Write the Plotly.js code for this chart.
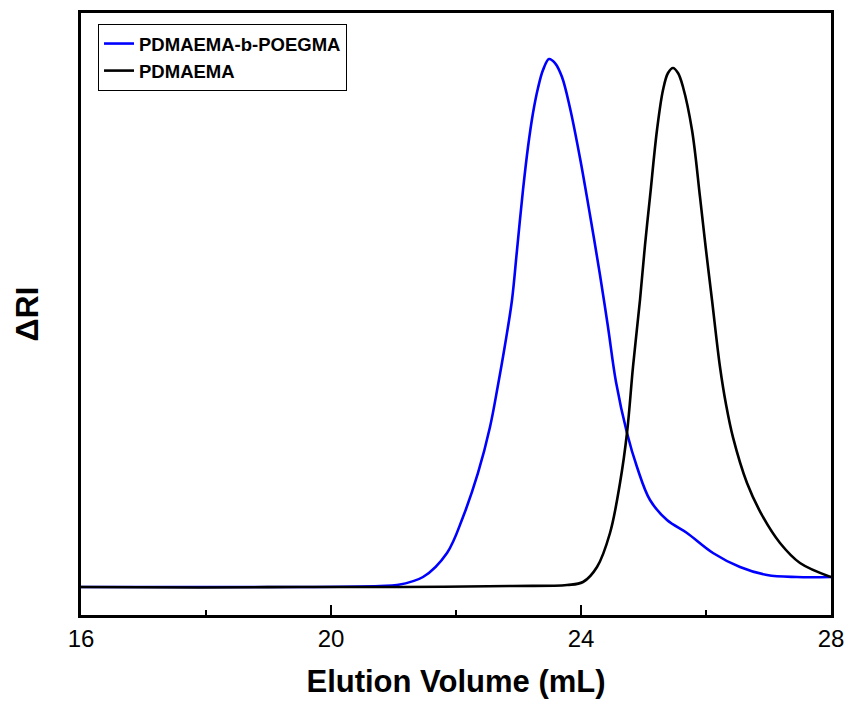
<!DOCTYPE html>
<html>
<head>
<meta charset="utf-8">
<script src="https://cdn.plot.ly/plotly-3.0.1.min.js"></script>
<style>html,body{margin:0;padding:0;background:#fff;}#chart{width:847px;height:702px;}</style>
</head>
<body>
<div id="chart"></div>
<script>
// Elution volume (mL) and ΔRI (arbitrary units, 0-100 scale)
const blockX = [16.0, 17.9, 19.5, 20.784, 21.056, 21.472, 21.856, 22.112, 22.352, 22.544, 22.672, 22.784, 22.896, 22.976, 23.072, 23.152, 23.232, 23.312, 23.392, 23.488, 23.584, 23.696, 23.824, 23.984, 24.144, 24.304, 24.432, 24.56, 24.736, 24.896, 25.104, 25.376, 25.696, 26.112, 26.544, 26.976, 27.456, 28.0];
const blockY = [4.65, 4.65, 4.65, 4.82, 4.98, 6.31, 10.30, 16.28, 23.59, 31.23, 38.21, 44.85, 52.33, 60.63, 70.60, 77.74, 83.39, 87.54, 90.53, 92.36, 91.69, 89.37, 84.22, 75.91, 66.45, 56.48, 47.84, 38.70, 30.23, 24.58, 19.10, 15.78, 13.62, 10.30, 7.97, 6.64, 6.31, 6.31];

const homoX = [16.0, 17.904, 19.504, 21.104, 22.912, 23.776, 24.032, 24.256, 24.464, 24.624, 24.736, 24.832, 24.944, 25.024, 25.104, 25.216, 25.312, 25.392, 25.472, 25.552, 25.632, 25.776, 25.904, 26.0, 26.096, 26.224, 26.32, 26.432, 26.656, 26.912, 27.184, 27.504, 28.0];
const homoY = [4.65, 4.57, 4.65, 4.65, 4.82, 4.98, 5.48, 7.97, 13.62, 21.93, 30.23, 41.20, 52.33, 61.46, 69.44, 80.56, 87.21, 90.03, 90.86, 90.03, 87.71, 80.56, 69.44, 60.63, 52.33, 41.20, 35.0, 29.5, 21.93, 16.28, 11.96, 8.64, 6.31];

const seriesNames = ['PDMAEMA-b-POEGMA', 'PDMAEMA'];
const majorTicks = [16, 20, 24, 28];
const minorTicks = [18, 22, 26];

const traces = [
  {x: blockX, y: blockY, name: seriesNames[0], type: 'scatter', mode: 'lines',
   line: {color: '#0000ff', width: 2.6, shape: 'spline', smoothing: 1}},
  {x: homoX, y: homoY, name: seriesNames[1], type: 'scatter', mode: 'lines',
   line: {color: '#000000', width: 2.6, shape: 'spline', smoothing: 1}}
];

const layout = {
  width: 847, height: 702,
  margin: {l: 81, r: 16, t: 13, b: 87},
  paper_bgcolor: '#fff', plot_bgcolor: '#fff',
  showlegend: true,
  font: {family: 'Liberation Sans, Arial, sans-serif', color: '#000'},
  legend: {
    x: 0.0227, y: 0.9817, xanchor: 'left', yanchor: 'top',
    bordercolor: '#000', borderwidth: 1, bgcolor: '#fff',
    font: {family: 'Liberation Sans, Arial, sans-serif', size: 18.5, color: '#000', weight: 'bold'},
    tracegroupgap: 0
  },
  xaxis: {
    range: [16, 28], tickvals: majorTicks, ticktext: majorTicks.map(String),
    ticks: 'inside', ticklen: 10, tickwidth: 2, tickcolor: '#000',
    minor: {tickvals: minorTicks, ticks: 'inside', ticklen: 5, tickwidth: 2, tickcolor: '#000'},
    showline: true, linecolor: '#000', linewidth: 3, mirror: true,
    showgrid: false, zeroline: false,
    tickfont: {size: 24, family: 'Liberation Sans, Arial, sans-serif', color: '#000'},
    title: {text: 'Elution Volume (mL)', standoff: 20,
            font: {size: 31, family: 'Liberation Sans, Arial, sans-serif', weight: 'bold', color: '#000'}}
  },
  yaxis: {
    range: [0, 100], showticklabels: false, ticks: '',
    showline: true, linecolor: '#000', linewidth: 3, mirror: true,
    showgrid: false, zeroline: false,
    title: {text: 'ΔRI', standoff: 30,
            font: {size: 32, family: 'Liberation Sans, Arial, sans-serif', weight: 'bold', color: '#000'}}
  }
};

Plotly.newPlot('chart', traces, layout, {displayModeBar: false, staticPlot: true});
</script>
</body>
</html>
